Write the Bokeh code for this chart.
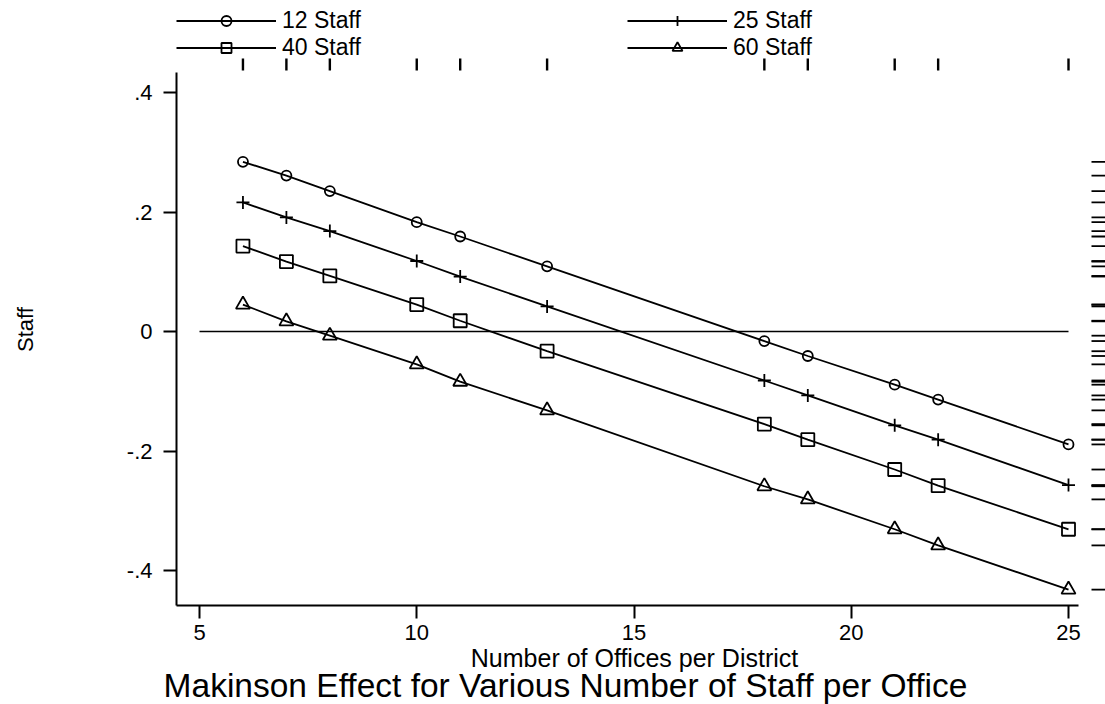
import math
from bokeh.plotting import figure
from bokeh.models import Range1d, FixedTicker, Legend, LegendItem, Label
from bokeh.embed import file_html
from bokeh.resources import INLINE

# ---------------- data ----------------
offices = [6, 7, 8, 10, 11, 13, 18, 19, 21, 22, 25]
staff_12 = [0.284, 0.261, 0.235, 0.183, 0.159, 0.109, -0.016, -0.041, -0.089, -0.114, -0.189]
staff_25 = [0.216, 0.191, 0.168, 0.118, 0.092, 0.042, -0.082, -0.107, -0.157, -0.181, -0.257]
staff_40 = [0.143, 0.117, 0.093, 0.045, 0.018, -0.033, -0.155, -0.181, -0.231, -0.258, -0.331]
staff_60 = [0.045, 0.017, -0.007, -0.055, -0.084, -0.132, -0.259, -0.281, -0.331, -0.358, -0.432]
series_labels = ["12 Staff", "25 Staff", "40 Staff", "60 Staff"]
x_ticks = [5, 10, 15, 20, 25]
y_ticks = [-0.4, -0.2, 0.0, 0.2, 0.4]
y_tick_labels = ["-.4", "-.2", "0", ".2", ".4"]
zero_line_y = 0.0
title_text = "Makinson Effect for Various Number of Staff per Office"
x_title = "Number of Offices per District"
y_title = "Staff"

# ---------------- geometry (pixels) ----------------
W, H = 1105, 704
AX_L, AX_R, AX_T, AX_B = 176, 1078, 72, 605   # axis line extents
X0PX, XPU = 199.0, 43.45      # pixel of x=5, pixels per unit
Y0PX, YPU = 331.0, 597.5      # pixel of y=0, pixels per unit


def px_x(px):
    return 5 + (px - X0PX) / XPU


def px_y(py):
    return (Y0PX - py) / YPU


FONT = "Liberation Sans"

p = figure(width=W, height=H, output_backend="svg", toolbar_location=None,
           x_range=Range1d(px_x(0), px_x(W)), y_range=Range1d(px_y(H), px_y(0)),
           min_border=0, min_border_left=0, min_border_right=0,
           min_border_top=0, min_border_bottom=0)
p.outline_line_color = None
p.xgrid.visible = False
p.ygrid.visible = False
p.background_fill_color = "white"
p.border_fill_color = "white"

for ax in (p.xaxis[0], p.yaxis[0]):
    ax.axis_line_width = 2
    ax.axis_line_color = "black"
    ax.major_tick_line_width = 2
    ax.major_tick_line_color = "black"
    ax.major_tick_in = 0
    ax.major_tick_out = 13
    ax.minor_tick_in = 0
    ax.minor_tick_out = 0
    ax.major_label_text_font = FONT
    ax.major_label_text_font_size = "22px"
    ax.major_label_text_color = "black"

p.xaxis[0].ticker = FixedTicker(ticks=x_ticks)
p.xaxis[0].fixed_location = px_y(AX_B)
p.xaxis[0].bounds = (px_x(AX_L), px_x(AX_R))
p.xaxis[0].major_label_standoff = 6
p.yaxis[0].ticker = FixedTicker(ticks=y_ticks)
p.yaxis[0].major_label_overrides = {t: l for t, l in zip(y_ticks, y_tick_labels)}
p.yaxis[0].fixed_location = px_x(AX_L)
p.yaxis[0].bounds = (px_y(AX_B), px_y(AX_T))
p.yaxis[0].major_label_standoff = 11

# zero reference line
p.segment(x0=[x_ticks[0]], y0=[zero_line_y], x1=[x_ticks[-1]], y1=[zero_line_y],
          line_color="black", line_width=1.7)

series = [staff_12, staff_25, staff_40, staff_60]
markers = ["circle", "cross", "square", "triangle"]
sizes = [10, 13, 13, 14]
rends = []
for s, m, sz in zip(series, markers, sizes):
    lr = p.line(offices, s, line_color="black", line_width=1.8)
    mr = p.scatter(offices, s, marker=m, size=sz, fill_color=None,
                   line_color="black", line_width=1.8)
    rends.append([lr, mr])

# rug marks: top (x values) and right (y values)
p.segment(x0=offices, y0=[px_y(70)] * len(offices), x1=offices, y1=[px_y(58)] * len(offices),
          line_color="black", line_width=2.4)
all_y = staff_12 + staff_25 + staff_40 + staff_60
p.segment(x0=[px_x(1091)] * len(all_y), y0=all_y, x1=[px_x(1105)] * len(all_y), y1=all_y,
          line_color="black", line_width=1.8)

# legends (two columns)
leg_kw = dict(orientation="vertical", glyph_width=100, glyph_height=25, label_height=25,
              spacing=-2, padding=0, margin=0, label_standoff=6,
              border_line_color=None, background_fill_alpha=0,
              label_text_font=FONT, label_text_font_size="23px",
              label_text_color="black", label_text_baseline="middle")
leg_bottom = H - 61
leg_left = Legend(items=[LegendItem(label=series_labels[0], renderers=rends[0]),
                         LegendItem(label=series_labels[2], renderers=rends[2])],
                  location=(AX_L, leg_bottom), **leg_kw)
leg_right = Legend(items=[LegendItem(label=series_labels[1], renderers=rends[1]),
                          LegendItem(label=series_labels[3], renderers=rends[3])],
                   location=(627, leg_bottom), **leg_kw)
p.add_layout(leg_left)
p.add_layout(leg_right)

# titles
p.add_layout(Label(x=px_x(25), y=px_y(329), text=y_title, angle=math.pi / 2,
                   text_align="center", text_baseline="middle",
                   text_font=FONT, text_font_size="22px", text_color="black"))
p.add_layout(Label(x=px_x(634), y=px_y(657), text=x_title,
                   text_align="center", text_baseline="middle",
                   text_font=FONT, text_font_size="25px", text_color="black"))
p.add_layout(Label(x=px_x(565), y=px_y(685), text=title_text,
                   text_align="center", text_baseline="middle",
                   text_font=FONT, text_font_size="33.5px", text_color="black"))

open("out.html", "w").write(file_html(p, INLINE))
